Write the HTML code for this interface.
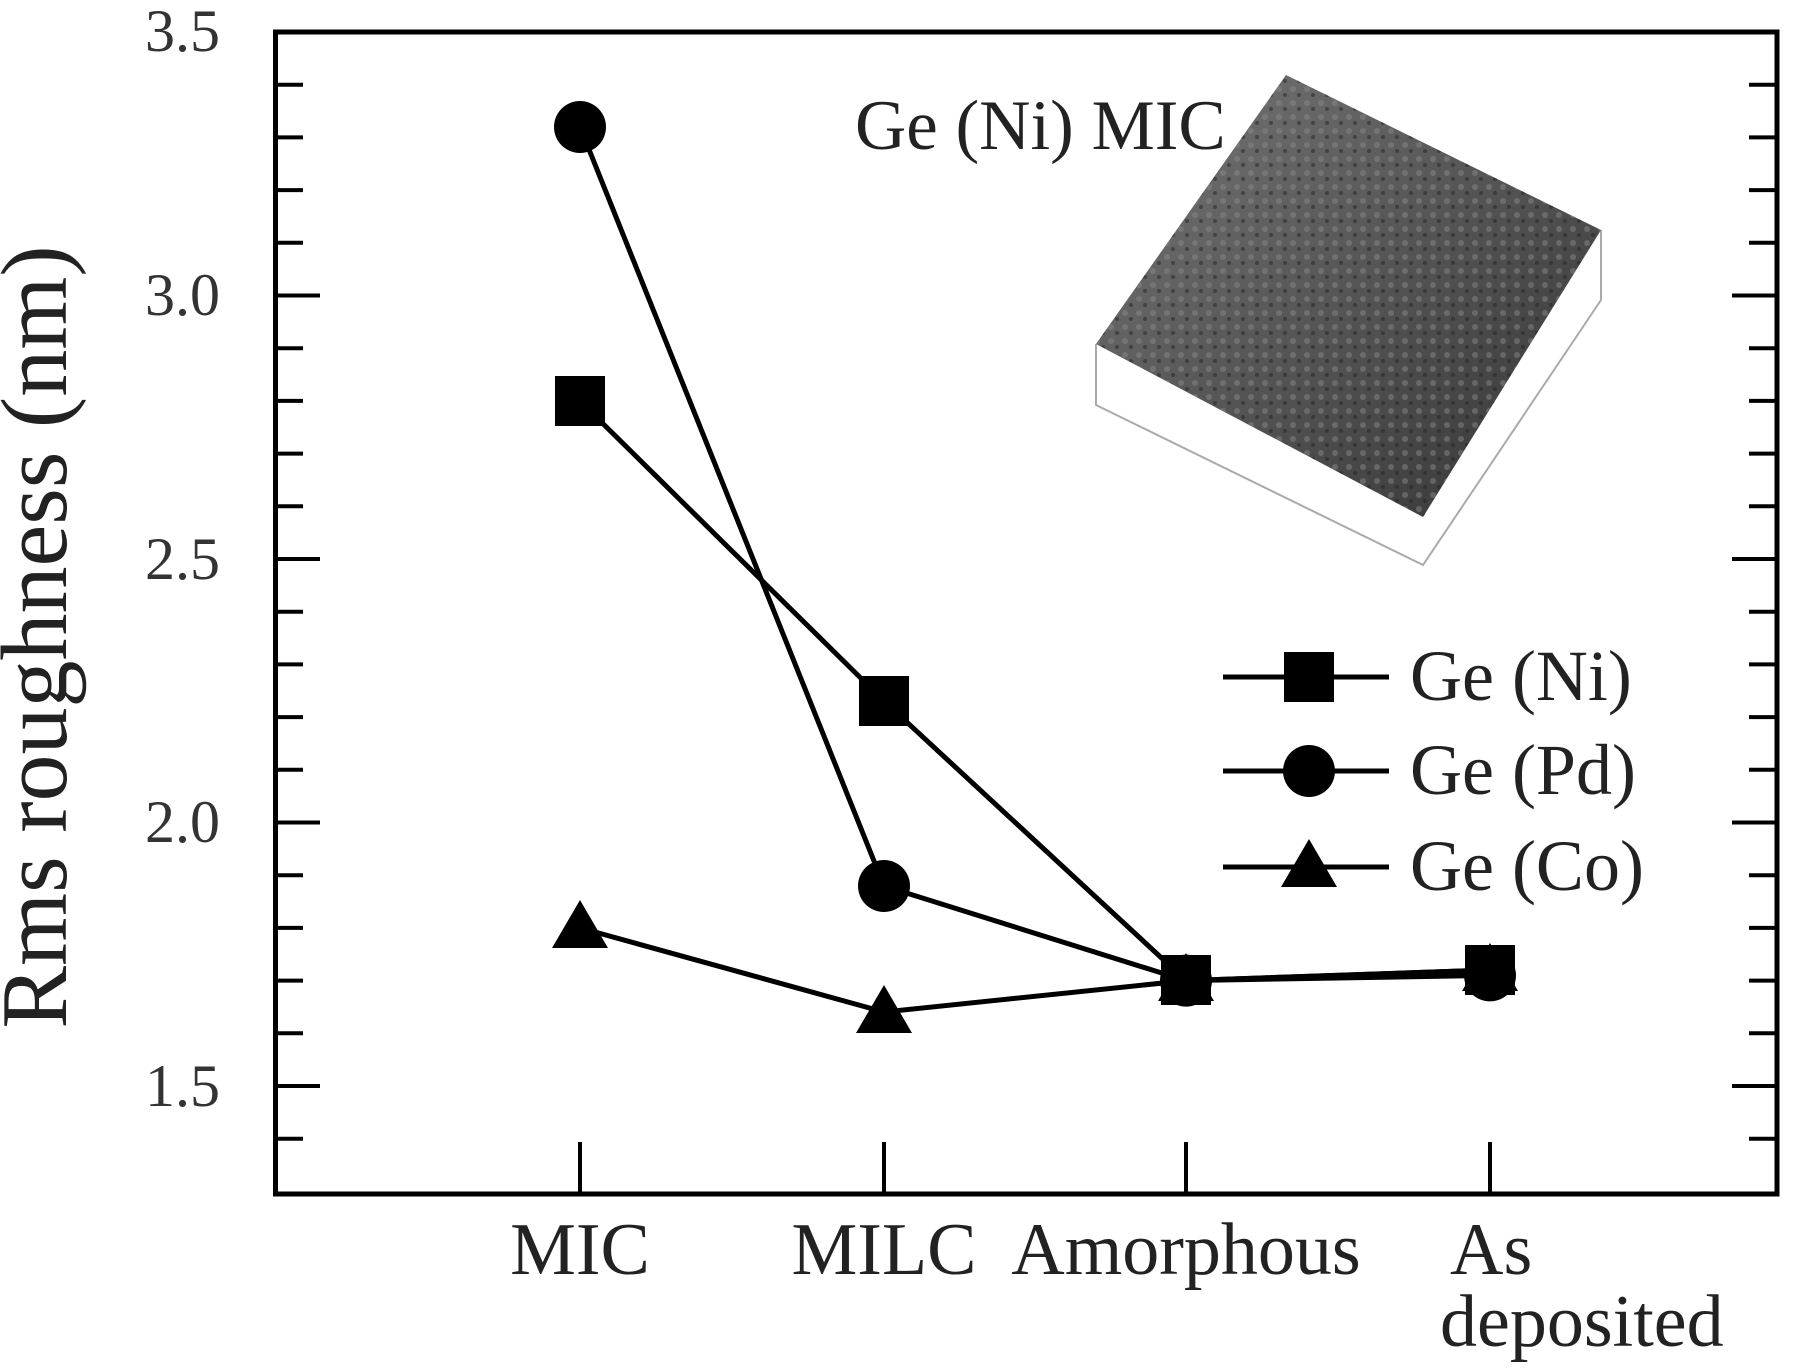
<!DOCTYPE html>
<html><head><meta charset="utf-8"><style>html,body{margin:0;padding:0;background:#fff}svg{display:block}</style></head>
<body>
<svg width="1800" height="1368" viewBox="0 0 1800 1368" xmlns="http://www.w3.org/2000/svg" font-family="Liberation Serif, serif">
<defs>
<linearGradient id="g" x1="0" y1="0" x2="1" y2="1">
<stop offset="0" stop-color="#777"/><stop offset="0.5" stop-color="#555"/><stop offset="1" stop-color="#333"/>
</linearGradient>
<pattern id="p" width="14" height="14" patternUnits="userSpaceOnUse">
<rect width="14" height="14" fill="none"/><circle cx="5" cy="5" r="3" fill="#888" opacity="0.5"/><circle cx="11" cy="11" r="2" fill="#222" opacity="0.5"/>
</pattern>
</defs>
<polyline points="1096,344 1096,405 1423,565 1601,300 1601,230" fill="none" stroke="#aaa" stroke-width="2"/>
<polygon points="1096,344 1286,75 1601,230 1423,517" fill="url(#g)"/>
<polygon points="1096,344 1286,75 1601,230 1423,517" fill="url(#p)"/>
<text x="855" y="149" font-size="71" fill="#222">Ge (Ni) MIC</text>
<rect x="275.5" y="32" width="1501.5" height="1162" fill="none" stroke="#000" stroke-width="5"/>
<g stroke="#000" stroke-width="4">
<path d="M275,32h45M275,84.7h28M275,137.4h28M275,190.1h28M275,242.8h28M275,295.5h45M275,348.2h28M275,400.9h28M275,453.6h28M275,506.3h28M275,559h45M275,611.7h28M275,664.4h28M275,717.1h28M275,769.8h28M275,822.5h45M275,875.2h28M275,927.9h28M275,980.6h28M275,1033.3h28M275,1086h45M275,1138.7h28"/>
<path d="M1777,32h-45M1777,84.7h-28M1777,137.4h-28M1777,190.1h-28M1777,242.8h-28M1777,295.5h-45M1777,348.2h-28M1777,400.9h-28M1777,453.6h-28M1777,506.3h-28M1777,559h-45M1777,611.7h-28M1777,664.4h-28M1777,717.1h-28M1777,769.8h-28M1777,822.5h-45M1777,875.2h-28M1777,927.9h-28M1777,980.6h-28M1777,1033.3h-28M1777,1086h-45M1777,1138.7h-28"/>
<path d="M580,1194v-52M884,1194v-52M1186,1194v-52M1490,1194v-52"/>
</g>
<g font-size="60" fill="#333" text-anchor="end">
<text x="220" y="51">3.5</text><text x="220" y="315">3.0</text><text x="220" y="579">2.5</text><text x="220" y="842">2.0</text><text x="220" y="1106">1.5</text>
</g>
<text transform="translate(66,637) rotate(-90)" font-size="94" text-anchor="middle" fill="#222">Rms roughness (nm)</text>
<g font-size="74" fill="#222" text-anchor="middle">
<text x="580" y="1274">MIC</text><text x="884" y="1274">MILC</text><text x="1186" y="1274">Amorphous</text>
<text x="1450" y="1274" text-anchor="start">As</text><text x="1440" y="1346" text-anchor="start">deposited</text>
</g>
<g stroke="#000" stroke-width="5" fill="none">
<polyline points="580,401 884,701 1186,980.6 1490,970"/>
<polyline points="580,127 884,886 1186,980.6 1490,975.4"/>
<polyline points="580,927.9 884,1012 1186,980.6 1490,970"/>
</g>
<g fill="#000">
<rect x="555" y="376" width="50" height="50"/><rect x="859" y="676" width="50" height="50"/><rect x="1161" y="955" width="50" height="50"/><rect x="1465" y="945" width="50" height="50"/>
<circle cx="580" cy="127" r="26"/><circle cx="884" cy="886" r="26"/><circle cx="1186" cy="980.6" r="26"/><circle cx="1490" cy="975.4" r="26"/>
<polygon points="580,900 608,948 552,948"/><polygon points="884,985 912,1033 856,1033"/><polygon points="1186,953 1214,1001 1158,1001"/><polygon points="1490,943 1518,991 1462,991"/>
</g>
<g stroke="#000" stroke-width="5"><path d="M1223,677h166M1223,771h166M1223,867h166"/></g>
<g fill="#000">
<rect x="1284" y="652" width="50" height="50"/><circle cx="1309" cy="771" r="26"/><polygon points="1309,839 1337,887 1281,887"/>
</g>
<g font-size="72" fill="#222">
<text x="1410" y="700">Ge (Ni)</text><text x="1410" y="794">Ge (Pd)</text><text x="1410" y="890">Ge (Co)</text>
</g>
</svg>
</body></html>
